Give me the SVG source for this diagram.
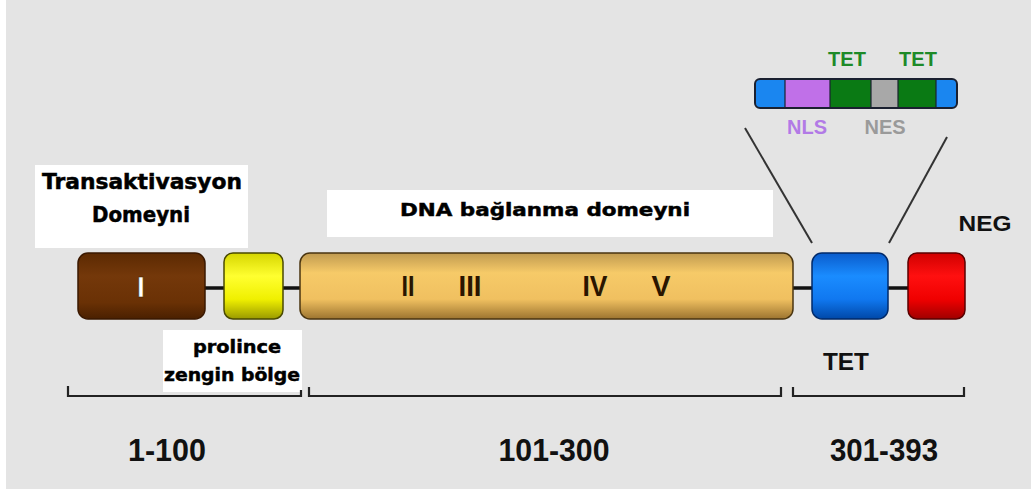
<svg xmlns="http://www.w3.org/2000/svg" width="1031" height="489" viewBox="0 0 1031 489">
<style>
.lbl{font-family:"DejaVu Sans","Liberation Sans",sans-serif;font-weight:bold;fill:#000;stroke:#000;stroke-width:0.5;}
.ar{font-family:"Liberation Sans",Arial,sans-serif;font-weight:bold;}
.num{font-family:"Liberation Sans",Arial,sans-serif;font-weight:bold;font-size:32px;fill:#111;text-anchor:middle;}
.rom{font-family:"Liberation Sans",Arial,sans-serif;font-weight:bold;font-size:29px;fill:#2a1500;text-anchor:middle;}
.wb{fill:#fff;}
.br{fill:none;stroke:#222;stroke-width:2.2;}
</style>
<defs>
<linearGradient id="gBrown" x1="0" y1="0" x2="0" y2="1">
<stop offset="0" stop-color="#5c2a02"/><stop offset="0.35" stop-color="#74380a"/><stop offset="0.75" stop-color="#6a3105"/><stop offset="1" stop-color="#4a2000"/>
</linearGradient>
<linearGradient id="gYellow" x1="0" y1="0" x2="0" y2="1">
<stop offset="0" stop-color="#d6d600"/><stop offset="0.35" stop-color="#ffff30"/><stop offset="0.7" stop-color="#f0f000"/><stop offset="1" stop-color="#9a9a00"/>
</linearGradient>
<linearGradient id="gTan" x1="0" y1="0" x2="0" y2="1">
<stop offset="0" stop-color="#c09a50"/><stop offset="0.3" stop-color="#f6ca68"/><stop offset="0.7" stop-color="#f0c060"/><stop offset="1" stop-color="#9c7430"/>
</linearGradient>
<linearGradient id="gBlue" x1="0" y1="0" x2="0" y2="1">
<stop offset="0" stop-color="#0a5ccc"/><stop offset="0.35" stop-color="#1a8cff"/><stop offset="0.7" stop-color="#1078f0"/><stop offset="1" stop-color="#0048a8"/>
</linearGradient>
<linearGradient id="gRed" x1="0" y1="0" x2="0" y2="1">
<stop offset="0" stop-color="#d00000"/><stop offset="0.35" stop-color="#ff1010"/><stop offset="0.7" stop-color="#f00000"/><stop offset="1" stop-color="#a00000"/>
</linearGradient>
<clipPath id="stripClip"><rect x="755" y="79" width="202" height="29" rx="5"/></clipPath>
</defs>

<rect x="0" y="0" width="1031" height="489" fill="#e4e4e4"/>
<rect x="0" y="0" width="6" height="489" fill="#ffffff"/>

<g id="connectors">
<line x1="205" y1="288" x2="908" y2="288" stroke="#111" stroke-width="3.5"/>
<line x1="745" y1="128" x2="812" y2="243" stroke="#333" stroke-width="2"/>
<line x1="947" y1="137" x2="889" y2="243" stroke="#333" stroke-width="2"/>
</g>

<g id="node-transaktivasyon-label">
<rect class="wb" x="35" y="165" width="213" height="83"/>
<text class="lbl" x="142" y="189" font-size="21" text-anchor="middle" textLength="200" lengthAdjust="spacingAndGlyphs">Transaktivasyon</text>
<text class="lbl" x="141" y="222" font-size="21" text-anchor="middle" textLength="98" lengthAdjust="spacingAndGlyphs">Domeyni</text>
</g>

<g id="node-dna-label">
<rect class="wb" x="327" y="190" width="446" height="47"/>
<text class="lbl" x="545" y="216" font-size="18" text-anchor="middle" textLength="290" lengthAdjust="spacingAndGlyphs">DNA bağlanma domeyni</text>
</g>

<g id="node-domain-I">
<rect x="78" y="253" width="127" height="66" rx="10" fill="url(#gBrown)" stroke="#3a1800" stroke-width="1.5"/>
<text x="141" y="297" font-family="Liberation Sans, Arial, sans-serif" font-weight="bold" font-size="30" fill="#fff" stroke="#3a1800" stroke-width="0.6" text-anchor="middle">I</text>
</g>

<g id="node-proline">
<rect x="224" y="253" width="59" height="66" rx="9" fill="url(#gYellow)" stroke="#4a4a00" stroke-width="1.5"/>
</g>

<g id="node-dna-binding">
<rect x="300" y="253" width="493" height="66" rx="10" fill="url(#gTan)" stroke="#4a3510" stroke-width="1.5"/>
<text class="rom" x="408" y="296" textLength="13" lengthAdjust="spacingAndGlyphs">II</text>
<text class="rom" x="470" y="296" textLength="23" lengthAdjust="spacingAndGlyphs">III</text>
<text class="rom" x="595" y="296" textLength="25" lengthAdjust="spacingAndGlyphs">IV</text>
<text class="rom" x="661" y="296" textLength="19" lengthAdjust="spacingAndGlyphs">V</text>
</g>

<g id="node-tet">
<rect x="812" y="253" width="76" height="66" rx="10" fill="url(#gBlue)" stroke="#002a6a" stroke-width="1.5"/>
</g>

<g id="node-neg">
<rect x="908" y="253" width="57" height="66" rx="9" fill="url(#gRed)" stroke="#5a0000" stroke-width="1.5"/>
</g>

<g id="node-tet-detail">
<g clip-path="url(#stripClip)">
<rect x="755" y="79" width="30" height="29" fill="#1a86f0"/>
<rect x="785" y="79" width="45" height="29" fill="#c070e8"/>
<rect x="830" y="79" width="41" height="29" fill="#0a7a14"/>
<rect x="871" y="79" width="27" height="29" fill="#a8a8a8"/>
<rect x="898" y="79" width="38" height="29" fill="#0a7a14"/>
<rect x="936" y="79" width="21" height="29" fill="#1a86f0"/>
</g>
<g stroke="#1a2030" stroke-width="1.2">
<line x1="785" y1="79" x2="785" y2="108"/>
<line x1="830" y1="79" x2="830" y2="108"/>
<line x1="871" y1="79" x2="871" y2="108"/>
<line x1="898" y1="79" x2="898" y2="108"/>
<line x1="936" y1="79" x2="936" y2="108"/>
</g>
<rect x="755" y="79" width="202" height="29" rx="5" fill="none" stroke="#1a2030" stroke-width="2"/>
<text class="ar" x="847" y="66" font-size="20" fill="#1e8a28" text-anchor="middle">TET</text>
<text class="ar" x="918" y="66" font-size="20" fill="#1e8a28" text-anchor="middle">TET</text>
<text class="ar" x="807" y="134" font-size="20" fill="#b27ae6" text-anchor="middle">NLS</text>
<text class="ar" x="885" y="134" font-size="20" fill="#9a9a9a" text-anchor="middle">NES</text>
</g>

<g id="node-neg-label">
<text class="ar" x="985" y="231" font-size="22" fill="#111" text-anchor="middle" textLength="53" lengthAdjust="spacingAndGlyphs">NEG</text>
</g>

<g id="node-tet-label">
<text class="ar" x="846" y="370" font-size="23" fill="#111" text-anchor="middle" textLength="46" lengthAdjust="spacingAndGlyphs">TET</text>
</g>

<g id="node-proline-label">
<rect class="wb" x="163" y="330" width="139" height="62"/>
<text class="lbl" x="237" y="353" font-size="18" text-anchor="middle" textLength="88" lengthAdjust="spacingAndGlyphs">prolince</text>
<text class="lbl" x="232" y="381" font-size="18" text-anchor="middle" textLength="136" lengthAdjust="spacingAndGlyphs">zengin bölge</text>
</g>

<g id="brackets">
<path class="br" d="M68,386 V396 H301 V390"/>
<path class="br" d="M309,387 V396 H781 V387"/>
<path class="br" d="M793,387 V396 H964 V387"/>
</g>

<g id="ranges">
<text class="num" x="167" y="461" textLength="78" lengthAdjust="spacingAndGlyphs">1-100</text>
<text class="num" x="554" y="461" textLength="111" lengthAdjust="spacingAndGlyphs">101-300</text>
<text class="num" x="884" y="461" textLength="108" lengthAdjust="spacingAndGlyphs">301-393</text>
</g>
</svg>
